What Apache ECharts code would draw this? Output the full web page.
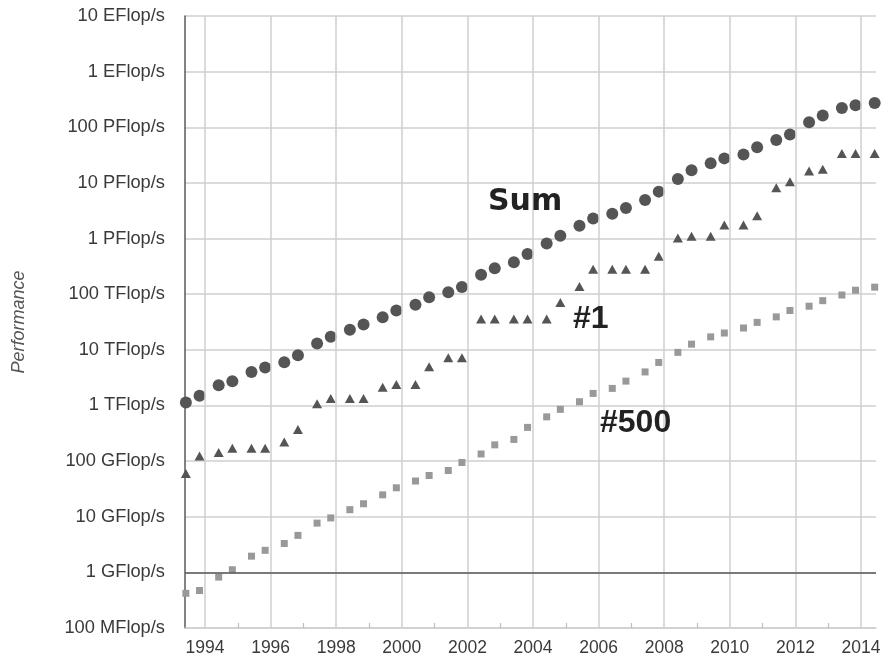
<!DOCTYPE html>
<html>
<head>
<meta charset="utf-8">
<script src="https://cdn.jsdelivr.net/npm/echarts@6/dist/echarts.min.js"></script>
<style>
  html, body { margin: 0; padding: 0; background: #fff; }
  #chart { width: 885px; height: 662px; }
</style>
</head>
<body>
<div id="chart"></div>
<script>
// TOP500 list editions (June and November of each year)
const listDates = [
  '1993-06','1993-11','1994-06','1994-11','1995-06','1995-11','1996-06','1996-11',
  '1997-06','1997-11','1998-06','1998-11','1999-06','1999-11','2000-06','2000-11',
  '2001-06','2001-11','2002-06','2002-11','2003-06','2003-11','2004-06','2004-11',
  '2005-06','2005-11','2006-06','2006-11','2007-06','2007-11','2008-06','2008-11',
  '2009-06','2009-11','2010-06','2010-11','2011-06','2011-11','2012-06','2012-11',
  '2013-06','2013-11','2014-06'
];

// Performance in GFlop/s
const sumPerf = [
  1128, 1493, 2317, 2732, 3993, 4828, 5963, 7989,
  12930, 17190, 23050, 28440, 38430, 50970, 64320, 88330,
  108800, 134200, 222700, 293300, 374700, 528400, 813100, 1127000,
  1690000, 2300000, 2790000, 3530000, 4920000, 6970000, 11700000, 16950000,
  22600000, 27600000, 32400000, 43700000, 58900000, 74200000, 123400000, 162000000,
  223000000, 250000000, 274000000
];
const firstPerf = [
  59.7, 124, 143.4, 170, 170, 170, 220.4, 368.2,
  1068, 1338, 1338, 1338, 2121, 2379, 2379, 4938,
  7226, 7226, 35860, 35860, 35860, 35860, 35860, 70720,
  136800, 280600, 280600, 280600, 280600, 478200, 1026000, 1105000,
  1105000, 1759000, 1759000, 2566000, 8162000, 10510000, 16320000, 17590000,
  33860000, 33860000, 33860000
];
const lastPerf = [
  0.42, 0.472, 0.822, 1.114, 1.955, 2.489, 3.306, 4.62,
  7.68, 9.513, 13.39, 17.1, 24.73, 33.1, 43.82, 55.1,
  67.78, 94.3, 134.3, 195.8, 245.1, 403.4, 624, 850.6,
  1166, 1646, 2026, 2737, 4005, 5929, 9000, 12640,
  17090, 20050, 24670, 31120, 39090, 50900, 60820, 76500,
  96620, 117800, 133700
];

// Axis labels
const yearLabels = [1994, 1996, 1998, 2000, 2002, 2004, 2006, 2008, 2010, 2012, 2014];
const oddYears = [1995, 1997, 1999, 2001, 2003, 2005, 2007, 2009, 2011, 2013];
const perfLabels = {
  '-1': '100 MFlop/s', '0': '1 GFlop/s', '1': '10 GFlop/s', '2': '100 GFlop/s',
  '3': '1 TFlop/s', '4': '10 TFlop/s', '5': '100 TFlop/s',
  '6': '1 PFlop/s', '7': '10 PFlop/s', '8': '100 PFlop/s',
  '9': '1 EFlop/s', '10': '10 EFlop/s'
};

function toYear(d) {
  const [y, m] = d.split('-').map(Number);
  return y + (m - 1) / 12;
}
const xs = listDates.map(toYear);
const pairs = arr => arr.map((v, i) => [xs[i], v]);

const chart = echarts.init(document.getElementById('chart'), null, { renderer: 'canvas' });

const FONT = 'Liberation Sans, Arial, sans-serif';

chart.setOption({
  animation: false,
  backgroundColor: '#ffffff',
  grid: { left: 185, right: 9, top: 16, bottom: 34 },
  xAxis: {
    type: 'value',
    min: 1993.39,
    max: 2014.457,
    axisLine: { show: true, lineStyle: { color: '#cfcfcf', width: 1.5 } },
    axisTick: {
      show: true, inside: true, length: 5,
      customValues: oddYears,
      lineStyle: { color: '#bdbdbd', width: 1.2 }
    },
    axisLabel: {
      customValues: yearLabels,
      margin: 11,
      color: '#3a3a3a',
      fontFamily: FONT,
      fontSize: 17.5,
      formatter: v => String(Math.round(v))
    },
    splitLine: { show: false }
  },
  yAxis: {
    type: 'log',
    logBase: 10,
    min: 0.1,
    max: 1e10,
    interval: 1,
    name: 'Performance',
    nameLocation: 'middle',
    nameRotate: 90,
    nameGap: 157,
    nameTextStyle: { fontFamily: FONT, fontStyle: 'italic', fontSize: 18, color: '#555' },
    axisLine: { show: true, lineStyle: { color: '#5a5a5a', width: 1.5 } },
    axisTick: { show: false },
    axisLabel: {
      margin: 20,
      color: '#3a3a3a',
      fontFamily: FONT,
      fontSize: 18.3,
      formatter: v => perfLabels[String(Math.round(Math.log10(v)))] || ''
    },
    splitLine: { show: true, lineStyle: { color: '#cfcfcf', width: 1.5 } }
  },
  series: [
    {
      // vertical year gridlines and the 1 GFlop/s reference line
      type: 'scatter',
      data: [],
      silent: true,
      z: 1,
      markLine: {
        silent: true,
        symbol: 'none',
        label: { show: false },
        animation: false,
        data: yearLabels.map(y => ({ xAxis: y, lineStyle: { color: '#cfcfcf', width: 1.5, type: 'solid' } }))
          .concat([{ yAxis: 1, lineStyle: { color: '#5a5a5a', width: 1.5, type: 'solid' } }])
      }
    },
    {
      name: '#500',
      type: 'scatter',
      symbol: 'rect',
      symbolSize: 7,
      itemStyle: { color: '#999999', opacity: 1 },
      data: pairs(lastPerf),
      z: 3
    },
    {
      name: '#1',
      type: 'scatter',
      symbol: 'triangle',
      symbolSize: [10, 9],
      itemStyle: { color: '#555555', opacity: 1 },
      data: pairs(firstPerf),
      z: 3
    },
    {
      name: 'Sum',
      type: 'scatter',
      symbol: 'circle',
      symbolSize: 12,
      itemStyle: { color: '#555555', opacity: 1 },
      data: pairs(sumPerf),
      z: 3
    }
  ],
  graphic: [
    {
      type: 'text', left: 488, top: 187, z: 10,
      style: { text: 'Sum', font: 'bold 30px "DejaVu Sans", sans-serif', fill: '#222' }
    },
    {
      type: 'text', left: 573, top: 303, z: 10,
      style: { text: '#1', font: 'bold 32px "Liberation Sans", Arial, sans-serif', fill: '#222' }
    },
    {
      type: 'text', left: 600, top: 407, z: 10,
      style: { text: '#500', font: 'bold 32px "Liberation Sans", Arial, sans-serif', fill: '#222' }
    }
  ]
});
</script>
</body>
</html>
